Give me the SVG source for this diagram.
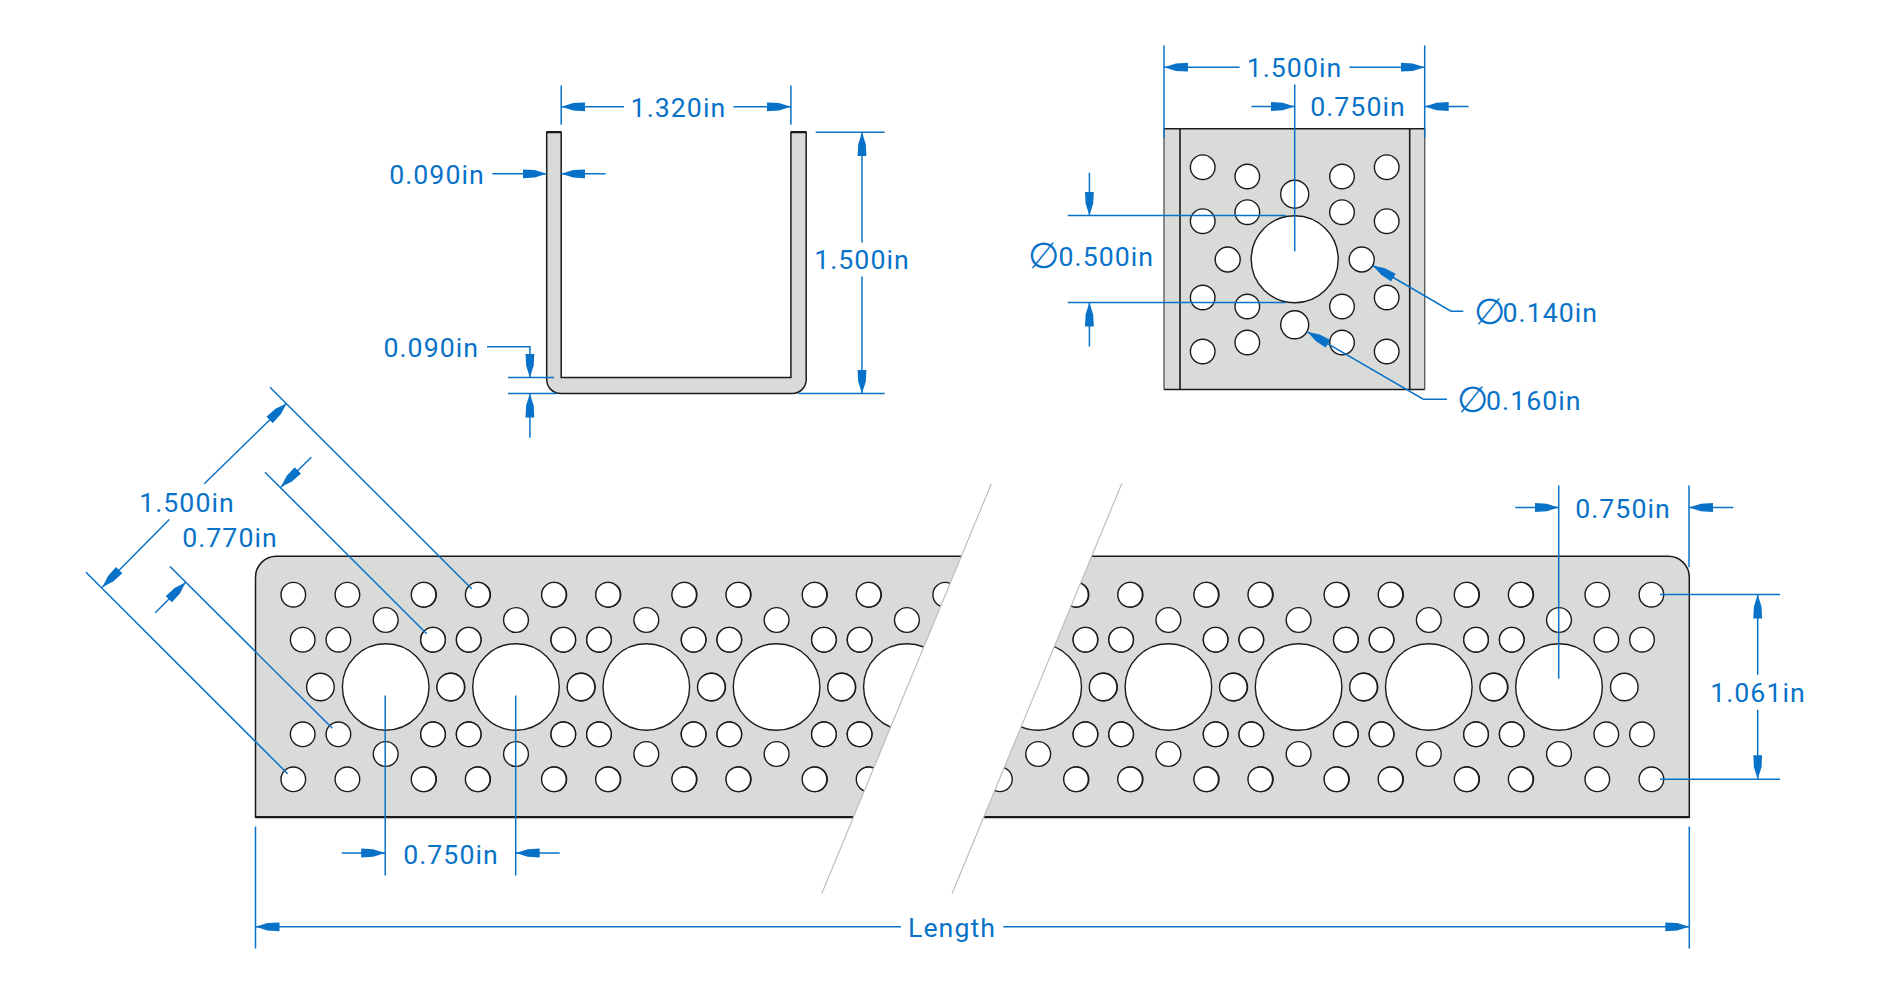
<svg xmlns="http://www.w3.org/2000/svg" width="1890" height="994" viewBox="0 0 1890 994">
<style>
.part{fill:#d9dbd8;stroke:#1a1a1a;stroke-width:1.5}
.fillonly{fill:#d9dbd8;stroke:none}
.edge{fill:none;stroke:#1a1a1a;stroke-width:1.6}
.heavy{fill:none;stroke:#1a1a1a;stroke-width:2.3}
.side{fill:none;stroke:#5c5e5c;stroke-width:1.4}
.hole{fill:#fff;stroke:#1a1a1a;stroke-width:1.4}
.dim{fill:none;stroke:#0872c8;stroke-width:1.5}
.arr{fill:none;stroke:#0872c8;stroke-width:1.5;marker-end:url(#tip)}
.brk{fill:none;stroke:#b9bab8;stroke-width:1.1}
text{font-family:Roboto,"Liberation Sans",sans-serif;font-size:26.7px;letter-spacing:1.05px;fill:#0872c8;text-anchor:middle}
text.d{text-anchor:start}
.sym{font-family:"DejaVu Sans",sans-serif;font-weight:200;font-size:36px;letter-spacing:0}
</style>
<defs>
<marker id="tip" markerUnits="userSpaceOnUse" markerWidth="26" markerHeight="12" refX="24" refY="6" orient="auto"><path d="M24,6L12,2.2L0,1.6V10.4L12,9.8Z" fill="#0872c8"/></marker>
<clipPath id="leftPart"><polygon points="0,400 1026,400 787,977 0,977"/></clipPath>
<clipPath id="rightPart"><polygon points="1156,400 1890,400 1890,977 917,977"/></clipPath>
<g id="cell">
<circle class="hole" r="43.3"/>
<circle class="hole" cy="-67" r="12.4"/><circle class="hole" cy="67" r="12.4"/>
<circle class="hole" cx="-65.3" r="13.8"/><circle class="hole" cx="65.3" r="13.8"/>
<circle class="hole" cx="-92.4" cy="-92.3" r="12.3"/><circle class="hole" cx="-38.3" cy="-92.3" r="12.3"/><circle class="hole" cx="38.3" cy="-92.3" r="12.3"/><circle class="hole" cx="92.4" cy="-92.3" r="12.3"/>
<circle class="hole" cx="-83" cy="-47.3" r="12.3"/><circle class="hole" cx="-47.3" cy="-47.3" r="12.3"/><circle class="hole" cx="47.3" cy="-47.3" r="12.3"/><circle class="hole" cx="83" cy="-47.3" r="12.3"/>
<circle class="hole" cx="-83" cy="47.3" r="12.3"/><circle class="hole" cx="-47.3" cy="47.3" r="12.3"/><circle class="hole" cx="47.3" cy="47.3" r="12.3"/><circle class="hole" cx="83" cy="47.3" r="12.3"/>
<circle class="hole" cx="-92.4" cy="92.3" r="12.3"/><circle class="hole" cx="-38.3" cy="92.3" r="12.3"/><circle class="hole" cx="38.3" cy="92.3" r="12.3"/><circle class="hole" cx="92.4" cy="92.3" r="12.3"/>
</g>
</defs>
<g transform="translate(0,.5)">
<g id="section-view">
<path class="part" d="M546.7,131.7H561.2V377H790.9V131.7H806.2V379A14,14 0 0 1 792.2,393H560.7A14,14 0 0 1 546.7,379Z"/>
<path class="heavy" d="M546.7,131.7H561.2M790.9,131.7H806.2"/>
</g>
<g id="end-view">
<rect class="fillonly" x="1164" y="128.3" width="260.7" height="260.7"/>
<path class="side" d="M1164,128.3V389M1424.7,128.3V389"/>
<path class="edge" d="M1164,128.3H1424.7M1164,389H1424.7M1180,128.3V389M1409.7,128.3V389"/>
<circle class="hole" cx="1294.7" cy="258.7" r="43.5"/>
<circle class="hole" cx="1294.7" cy="193.7" r="14"/><circle class="hole" cx="1294.7" cy="324.3" r="14"/>
<circle class="hole" cx="1227.7" cy="259" r="12.5"/><circle class="hole" cx="1361.7" cy="259" r="12.5"/>
<circle class="hole" cx="1202.7" cy="166.7" r="12.3"/><circle class="hole" cx="1247.3" cy="176" r="12.3"/><circle class="hole" cx="1342" cy="176" r="12.3"/><circle class="hole" cx="1386.7" cy="166.7" r="12.3"/>
<circle class="hole" cx="1202.7" cy="220.7" r="12.3"/><circle class="hole" cx="1247.3" cy="211.7" r="12.3"/><circle class="hole" cx="1342" cy="211.7" r="12.3"/><circle class="hole" cx="1386.7" cy="220.7" r="12.3"/>
<circle class="hole" cx="1202.7" cy="297" r="12.3"/><circle class="hole" cx="1247.3" cy="306" r="12.3"/><circle class="hole" cx="1342" cy="306" r="12.3"/><circle class="hole" cx="1386.7" cy="297" r="12.3"/>
<circle class="hole" cx="1202.7" cy="351" r="12.3"/><circle class="hole" cx="1247.3" cy="342" r="12.3"/><circle class="hole" cx="1342" cy="342" r="12.3"/><circle class="hole" cx="1386.7" cy="351" r="12.3"/>
</g>
<g id="plan-view">
<path class="part" d="M255.5,816.7V576.7A21,21 0 0 1 276.5,555.7H1668.3A21,21 0 0 1 1689.3,576.7V816.7Z"/>
<path class="heavy" d="M255.5,816.7H1689.3"/>
<g clip-path="url(#leftPart)"><use href="#cell" x="385.7" y="686.5"/><use href="#cell" x="516" y="686.5"/><use href="#cell" x="646.3" y="686.5"/><use href="#cell" x="776.6" y="686.5"/><use href="#cell" x="906.9" y="686.5"/></g>
<polygon points="991.3,483.3 1121.7,483.3 952,893.3 821.7,893.3" fill="#fff"/>
<g clip-path="url(#rightPart)"><use href="#cell" x="1038.2" y="686.5"/><use href="#cell" x="1168.4" y="686.5"/><use href="#cell" x="1298.6" y="686.5"/><use href="#cell" x="1428.8" y="686.5"/><use href="#cell" x="1559" y="686.5"/></g>
<path class="brk" d="M991.3,483.3L821.7,893.3M1121.7,483.3L952,893.3"/>
</g>
<g id="connectors">
<path class="dim" d="M561.2,85V124.3M790.9,85V124.3"/>
<path class="arr" d="M624,106.3H561.2"/><path class="arr" d="M733.5,106.3H790.9"/>
<path class="arr" d="M492.4,173.3H546.7"/><path class="arr" d="M605.6,173.3H561.2"/>
<path class="arr" d="M487,346.3H529.9V377"/><path class="arr" d="M529.9,437.3V393"/>
<path class="dim" d="M508,377H554M508,393H556.7"/>
<path class="dim" d="M815.7,131.7H884.6M798.5,393H884.6"/>
<path class="arr" d="M862,242V131.7"/><path class="arr" d="M862,276V393"/>
<path class="dim" d="M1164,45V137.3M1424.7,45V137.3M1294.7,84V250.7"/>
<path class="arr" d="M1239.6,66.7H1164"/><path class="arr" d="M1349.4,66.7H1424.7"/>
<path class="arr" d="M1251.4,106H1294.7"/><path class="arr" d="M1468.6,106H1424.7"/>
<path class="dim" d="M1067.8,215H1285.7M1067.8,302H1285.7"/>
<path class="arr" d="M1089.4,172.3V215"/><path class="arr" d="M1089.4,346V302"/>
<path class="arr" d="M1463.3,310.7H1451L1372.7,265"/>
<path class="arr" d="M1447,398.7H1423.3L1307.3,331.3"/>
<path class="dim" d="M270,386.7L471.7,588.3M86,571.7L287.7,773.3M265,471.7L426.7,633.3M170,566L332.3,727.7"/>
<path class="arr" d="M204.3,483.3L286.7,402.7"/><path class="arr" d="M169.3,519L102.3,586.7"/>
<path class="arr" d="M311.3,456.7L280.7,486.7"/><path class="arr" d="M155.3,612.3L185.7,581.7"/>
<path class="dim" d="M385.2,695V875M515.7,695V875"/>
<path class="arr" d="M341.7,852.5H385.2"/><path class="arr" d="M559.7,852.5H515.7"/>
<path class="dim" d="M1558.7,485V678.3M1689,485V566.7"/>
<path class="arr" d="M1515.3,507H1558.7"/><path class="arr" d="M1733.3,507H1689"/>
<path class="dim" d="M1660,594H1780M1660,778.7H1780"/>
<path class="arr" d="M1757.7,674.3V594"/><path class="arr" d="M1757.7,709.3V778.7"/>
<path class="dim" d="M255.5,826V948M1689.3,826V948"/>
<path class="arr" d="M901,926.3H255.5"/><path class="arr" d="M1003.3,926.3H1689.3"/>
</g>
<g id="labels">
<text x="678.4" y="116.7">1.320in</text>
<text x="437" y="183.3">0.090in</text>
<text x="431.3" y="356">0.090in</text>
<text x="862" y="268.3">1.500in</text>
<text x="1294.5" y="76">1.500in</text>
<text x="1358" y="115.7">0.750in</text>
<text class="d" x="1028" y="265.7"><tspan class="sym" dy="2">∅</tspan><tspan x="1058.5" dy="-2">0.500in</tspan></text>
<text class="d" x="1474" y="321.7"><tspan class="sym" dy="2">∅</tspan><tspan x="1502.5" dy="-2">0.140in</tspan></text>
<text class="d" x="1457" y="409"><tspan class="sym" dy="2">∅</tspan><tspan x="1486" dy="-2">0.160in</tspan></text>
<text x="187" y="511">1.500in</text>
<text x="230" y="546.7">0.770in</text>
<text x="451" y="863.3">0.750in</text>
<text x="1623" y="517.3">0.750in</text>
<text x="1758" y="701.7">1.061in</text>
<text x="952" y="936.7">Length</text>
</g>
</g>
</svg>
